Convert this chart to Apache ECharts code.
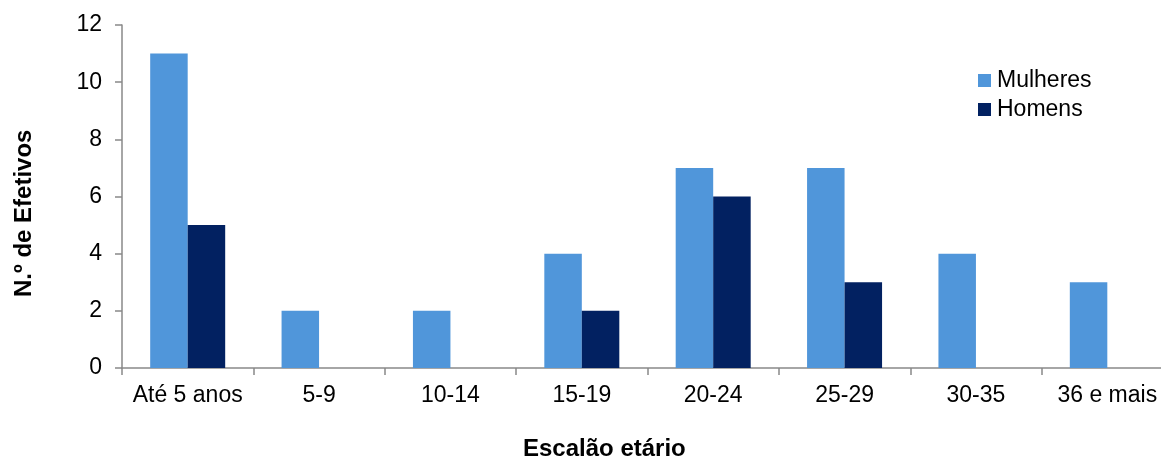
<!DOCTYPE html>
<html><head><meta charset="utf-8">
<script src="https://cdn.jsdelivr.net/npm/echarts@6/dist/echarts.min.js"></script>
<style>html,body{margin:0;padding:0;background:#fff;overflow:hidden}#c{width:1173px;height:461px}</style>
</head><body><div id="c"></div>
<script>
const categories = ['Até 5 anos','5-9','10-14','15-19','20-24','25-29','30-35','36 e mais'];
const mulheres = [11,2,2,4,7,7,4,3];
const homens = [5,0,0,2,6,3,0,0];
const yTicks = {min:0,max:12,interval:2};
const seriesNames = ['Mulheres','Homens'];
const yTitle = 'N.º de Efetivos';
const xTitle = 'Escalão etário';

const font = '"Liberation Sans", Arial, sans-serif';
const chart = echarts.init(document.getElementById('c'));
chart.setOption({
  animation:false,
  textStyle:{fontFamily:font},
  grid:{left:122,right:0,top:25,bottom:93,containLabel:false},
  legend:{
    orient:'vertical', left:978, top:69, padding:0, itemWidth:13, itemHeight:13, itemGap:6,
    icon:'rect',
    textStyle:{fontSize:23,lineHeight:23,color:'#000',fontFamily:font,padding:[0,0,0,1]},
    data:seriesNames
  },
  xAxis:{
    type:'category', data:categories,
    axisLine:{lineStyle:{color:'#898989',width:1.5}},
    axisTick:{show:true,interval:0,length:7,lineStyle:{color:'#898989',width:1.5}},
    axisLabel:{interval:0,fontSize:23,color:'#000',margin:16,fontFamily:font}
  },
  yAxis:{
    type:'value', min:yTicks.min, max:yTicks.max, interval:yTicks.interval,
    axisLine:{show:true,lineStyle:{color:'#898989',width:1.5}},
    axisTick:{show:true,length:7,lineStyle:{color:'#898989',width:1.5}},
    splitLine:{show:false},
    axisLabel:{fontSize:23,color:'#000',margin:20,fontFamily:font}
  },
  graphic:[
    {type:'text', left:523, top:437, style:{text:xTitle,font:'bold 24px '+font,fill:'#000'}},
    {type:'text', rotation:Math.PI/2, x:12, y:297, style:{text:yTitle,font:'bold 24px '+font,fill:'#000',textAlign:'left',textVerticalAlign:'top'}}
  ],
  series:[
    {name:seriesNames[0], type:'bar', data:mulheres, barWidth:37.5, barGap:'0%', itemStyle:{color:'#5096DA'}},
    {name:seriesNames[1], type:'bar', data:homens, barWidth:37.5, barGap:'0%', itemStyle:{color:'#022161'}}
  ]
});
</script></body></html>
